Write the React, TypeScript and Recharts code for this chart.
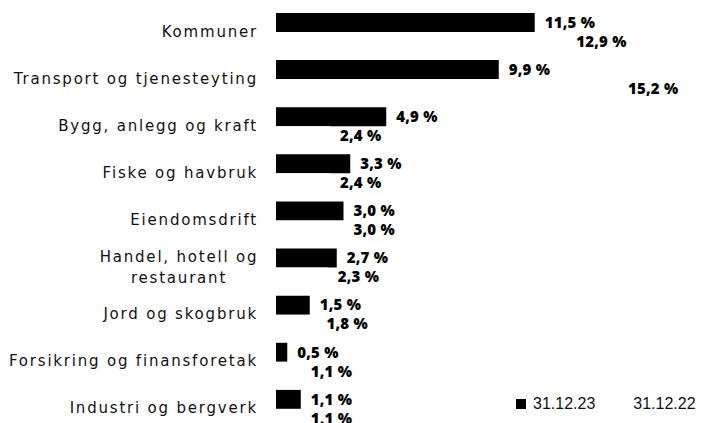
import { Bar, BarChart, LabelList, Legend, XAxis, YAxis } from 'recharts'

const categories = [
  'Kommuner',
  'Transport og tjenesteyting',
  'Bygg, anlegg og kraft',
  'Fiske og havbruk',
  'Eiendomsdrift',
  'Handel, hotell og\nrestaurant',
  'Jord og skogbruk',
  'Forsikring og finansforetak',
  'Industri og bergverk',
]
const share2023 = [11.5, 9.9, 4.9, 3.3, 3.0, 2.7, 1.5, 0.5, 1.1]
const share2022 = [12.9, 15.2, 2.4, 2.4, 3.0, 2.3, 1.8, 1.1, 1.1]
const seriesNames = ['31.12.23', '31.12.22']

const data = categories.map((name, i) => ({ name, y23: share2023[i], y22: share2022[i] }))

const fmt = (v: number) => `${v.toFixed(1).replace('.', ',')} %`

const tickStyle = { fontFamily: 'DejaVu Sans', fontSize: 15, letterSpacing: 1.8, fill: '#111' }
const valueStyle = { fontFamily: 'Open Sans', fontWeight: 800, fontSize: 15, letterSpacing: 0.2, fill: '#000' }

function CategoryTick({ x, y, payload }: any) {
  const lines = String(payload.value).split('\n')
  if (lines.length === 1) {
    return (
      <text x={x} y={y} dy={5} textAnchor="end" style={tickStyle}>
        {lines[0]}
      </text>
    )
  }
  return (
    <text x={x - 79} y={y} textAnchor="middle" style={tickStyle}>
      <tspan x={x - 79} dy={-5}>{lines[0]}</tspan>
      <tspan x={x - 79} dy={21}>{lines[1]}</tspan>
    </text>
  )
}

function LegendContent() {
  const colors = ['#000', '#fff']
  return (
    <div style={{ display: 'flex', fontFamily: 'Liberation Sans', fontSize: 16, color: '#111' }}>
      {seriesNames.map((n, i) => (
        <div key={n} style={{ display: 'flex', alignItems: 'center', marginRight: i === 0 ? 21 : 0 }}>
          <span style={{ width: 10, height: 10, background: colors[i], marginRight: 7, display: 'inline-block' }} />
          {n}
        </div>
      ))}
    </div>
  )
}

export default function App() {
  return (
    <div style={{ width: 701, height: 423, overflow: 'hidden', background: '#fff' }}>
      <style>{'body{margin:0;overflow:hidden}'}</style>
      <BarChart
        width={701}
        height={432}
        data={data}
        layout="vertical"
        margin={{ top: 8, right: 20, left: 0, bottom: 0 }}
        barGap={0}
        barSize={19}
      >
        <XAxis type="number" domain={[0, 18]} hide />
        <YAxis
          type="category"
          dataKey="name"
          width={276}
          tickLine={false}
          axisLine={false}
          tickMargin={12}
          tick={<CategoryTick />}
          interval={0}
        />
        <Legend
          layout="horizontal"
          verticalAlign="middle"
          content={<LegendContent />}
          wrapperStyle={{ position: 'absolute', left: 516, top: 395, width: 'auto' }}
        />
        <Bar dataKey="y23" name={seriesNames[0]} fill="#000" isAnimationActive={false}>
          <LabelList
            dataKey="y23"
            position="right"
            offset={10}
            formatter={(v: any) => fmt(Number(v))}
            style={valueStyle}
          />
        </Bar>
        <Bar dataKey="y22" name={seriesNames[1]} fill="#fff" isAnimationActive={false}>
          <LabelList
            dataKey="y22"
            position="right"
            offset={10}
            formatter={(v: any) => fmt(Number(v))}
            style={valueStyle}
          />
        </Bar>
      </BarChart>
    </div>
  )
}
